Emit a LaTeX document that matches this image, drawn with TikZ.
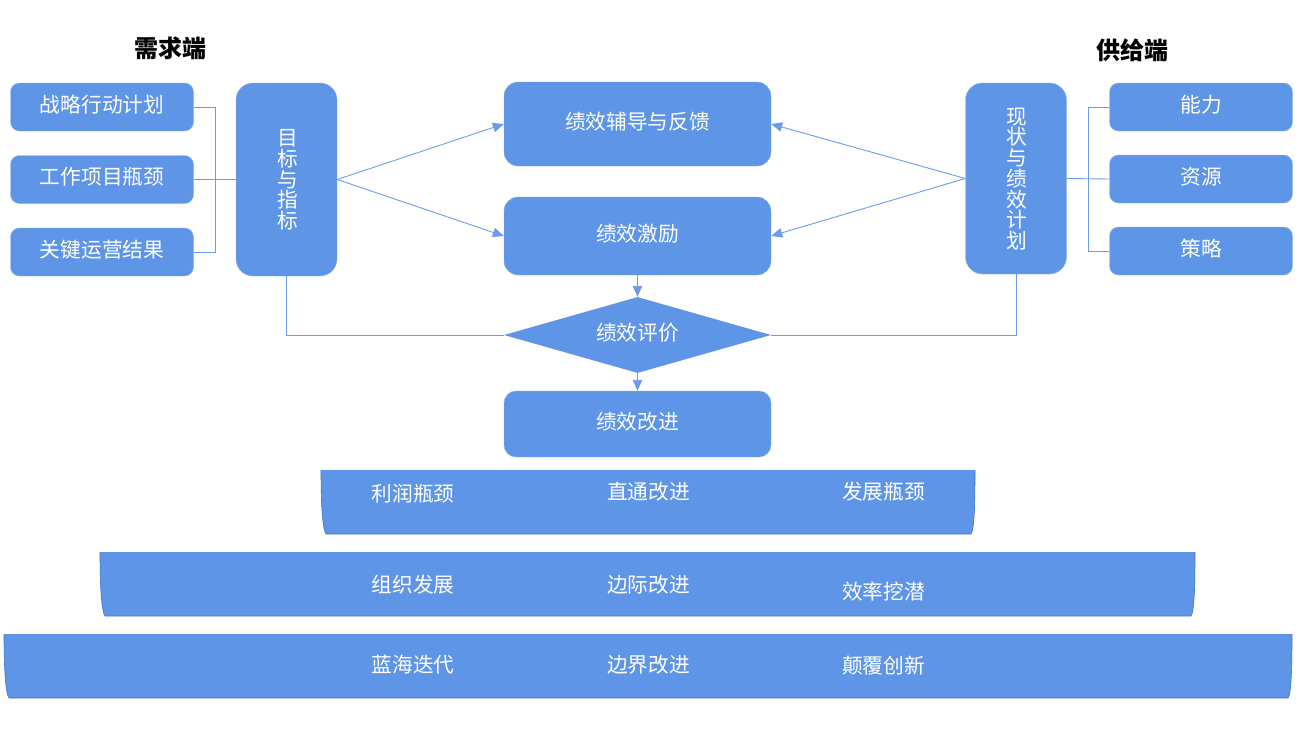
\documentclass[tikz,border=0pt]{standalone}
\usepackage{fontspec}
\usetikzlibrary{arrows.meta,shapes.geometric}
\newfontfamily\cjk{Noto Sans CJK SC}
\definecolor{barblue}{HTML}{5F95E6}
\definecolor{edgeblue}{HTML}{8DB2EE}
\definecolor{linkblue}{HTML}{6C9CE8}
\definecolor{bardark}{HTML}{4474C8}
\tikzset{
    box/.style={draw=edgeblue,line width=0.4pt,fill=barblue,text=white,rounded corners=#1,inner sep=0pt,
        font=\cjk\fontsize{20.7}{20.7}\selectfont,align=center},
    box/.default=9pt,
    word/.style={text=white,inner sep=0pt,align=center,font=\cjk\fontsize{20.7}{20.7}\selectfont},
    head/.style={text=black,inner sep=0pt,font=\cjk\bfseries\fontsize{24}{24}\selectfont},
    link/.style={draw=linkblue,line width=0.9pt},
    tip/.style={link,-{Triangle[length=11pt,width=9.5pt]}},
}
\begin{document}
\begin{tikzpicture}[x=1pt,y=-1pt]
    \useasboundingbox (0,0) rectangle (1300,752);

    \node[head] (need) at (170,48) {需求端};
    \node[head] (supply) at (1132,50) {供给端};

    \node[box,minimum width=183pt,minimum height=48pt] (plan) at (102,107) {\raisebox{7pt}{战略行动计划}};
    \node[box,minimum width=183pt,minimum height=48pt] (neck) at (102,179.5) {\raisebox{7pt}{工作项目瓶颈}};
    \node[box,minimum width=183pt,minimum height=48pt] (oper) at (102,252) {\raisebox{7pt}{关键运营结果}};
    \node[box=17pt,minimum width=101pt,minimum height=193pt] (goal) at (286.5,179.5) {};
    \node[word] (goaltext) at (288,180) {目\\标\\与\\指\\标};

    \node[box=14pt,minimum width=267pt,minimum height=84pt] (coach) at (637.5,124) {\raisebox{7pt}{绩效辅导与反馈}};
    \node[box=14pt,minimum width=267pt,minimum height=78pt] (bonus) at (637.5,236) {\raisebox{7pt}{绩效激励}};
    \node[diamond,fill=barblue,text=white,inner sep=0pt,aspect=3.5,minimum width=267pt,minimum height=76pt,
        font=\cjk\fontsize{20.7}{20.7}\selectfont] (judge) at (637.5,335) {\raisebox{7pt}{绩效评价}};
    \node[box=12pt,minimum width=267pt,minimum height=66pt] (better) at (637.5,424) {\raisebox{7pt}{绩效改进}};

    \node[box=17pt,minimum width=101pt,minimum height=191pt] (now) at (1016,178.5) {};
    \node[word] (nowtext) at (1017,179) {现\\状\\与\\绩\\效\\计\\划};
    \node[box,minimum width=183pt,minimum height=48pt] (able) at (1201,107) {\raisebox{7pt}{能力}};
    \node[box,minimum width=183pt,minimum height=48pt] (res) at (1201,179) {\raisebox{7pt}{资源}};
    \node[box,minimum width=183pt,minimum height=48pt] (tact) at (1201,251) {\raisebox{7pt}{策略}};

    % bars at the bottom
    \foreach \i/\j/\k in {321/975/470,100/1195/552,4/1292/634}{
        \fill[barblue] (\i,\k)--(\j,\k) .. controls (\j,\k+40) and (\j-1,\k+60) .. (\j-4,\k+64)
            --(\i+5,\k+64) .. controls (\i+2,\k+60) and (\i,\k+40) .. (\i,\k)--cycle;
        \draw[bardark,line width=0.6pt] (\i,\k) .. controls (\i,\k+40) and (\i+2,\k+60) .. (\i+5,\k+64)
            --(\j-4,\k+64) .. controls (\j-1,\k+60) and (\j,\k+40) .. (\j,\k);
    }
    \node[word] (profit) at (413,494) {利润瓶颈};
    \node[word] (direct) at (648.5,492) {直通改进};
    \node[word] (grow) at (883.5,492) {发展瓶颈};
    \node[word] (org) at (413,585) {组织发展};
    \node[word] (margin) at (648.5,585) {边际改进};
    \node[word] (effect) at (883.5,592) {效率挖潜};
    \node[word] (ocean) at (413,665) {蓝海迭代};
    \node[word] (border) at (648.5,665) {边界改进};
    \node[word] (disrupt) at (883.5,666) {颠覆创新};

    \draw[link] (plan.east)--(215,107)--(215,252)--(oper.east);
    \draw[link] (neck.east)--(goal.west);
    \draw[link] (able.west)--(1088,107)--(1088,251)--(tact.west);
    \draw[link] (res.west)--(now.east);

    \draw[tip] (goal.east)--(coach.west);
    \draw[tip] (goal.east)--(bonus.west);
    \draw[tip] (now.west)--(coach.east);
    \draw[tip] (now.west)--(bonus.east);
    \draw[tip] (bonus.south)--(judge.north);
    \draw[tip] (judge.south)--(better.north);
    \draw[link] (goal.south)|-(judge.west);
    \draw[link] (now.south)|-(judge.east);
\end{tikzpicture}
\end{document}
